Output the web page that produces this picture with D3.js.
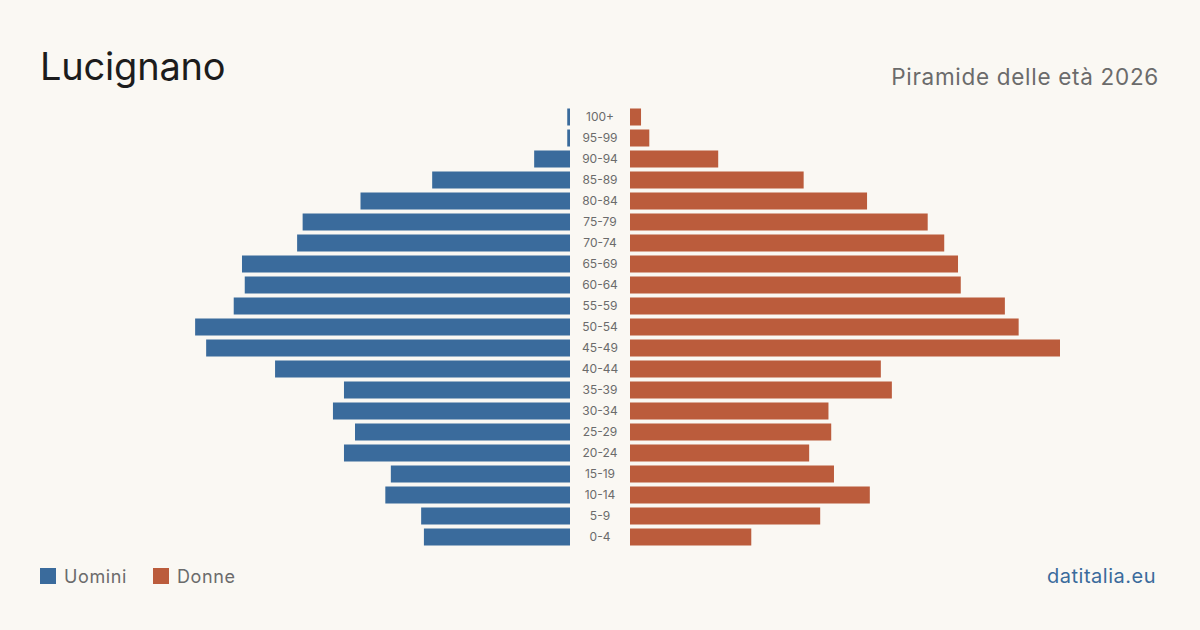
<!DOCTYPE html>
<html>
<head>
<meta charset="utf-8">
<script src="https://cdn.jsdelivr.net/npm/d3@7"></script>
<style>
  html, body { margin: 0; padding: 0; background: #faf8f3; }
  svg { display: block; font-family: Inter, "Noto Sans", sans-serif; }
</style>
</head>
<body>
<svg width="1200" height="630"></svg>
<script>
// age classes, top to bottom
var ageGroups = ["100+", "95-99", "90-94", "85-89", "80-84", "75-79", "70-74", "65-69", "60-64", "55-59",
  "50-54", "45-49", "40-44", "35-39", "30-34", "25-29", "20-24", "15-19", "10-14", "5-9", "0-4"];
var men   = [1, 1, 13, 50, 76, 97, 99, 119, 118, 122, 136, 132, 107, 82, 86, 78, 82, 65, 67, 54, 53];
var women = [4, 7, 32, 63, 86, 108, 114, 119, 120, 136, 141, 156, 91, 95, 72, 73, 65, 74, 87, 69, 44];
var legendItems = ["Uomini", "Donne"];

var blue = "#3a6b9c", red = "#bb5c3c";
var svg = d3.select("svg");

svg.append("text").attr("x", 40).attr("y", 80)
  .attr("font-size", 38).attr("letter-spacing", -0.2).attr("fill", "#1c1c1c").text("Lucignano");
svg.append("text").attr("x", 1159).attr("y", 85).attr("text-anchor", "end")
  .attr("font-size", 22.5).attr("letter-spacing", 0.7).attr("fill", "#6b6b6b").text("Piramide delle età 2026");

var y = d3.scaleBand().domain(ageGroups).range([106.5, 547.5]).paddingInner(0.19).paddingOuter(0.095);
var maxVal = 156;
var xL = d3.scaleLinear().domain([0, maxVal]).range([570, 140]);
var xR = d3.scaleLinear().domain([0, maxVal]).range([630, 1060]);

svg.append("g").selectAll("rect").data(men).enter().append("rect")
  .attr("x", d => xL(d))
  .attr("y", (d, i) => y(ageGroups[i]))
  .attr("width", d => xL(0) - xL(d))
  .attr("height", y.bandwidth())
  .attr("fill", blue);

svg.append("g").selectAll("rect").data(women).enter().append("rect")
  .attr("x", xR(0))
  .attr("y", (d, i) => y(ageGroups[i]))
  .attr("width", d => xR(d) - xR(0))
  .attr("height", y.bandwidth())
  .attr("fill", red);

svg.append("g").selectAll("text").data(ageGroups).enter().append("text")
  .attr("x", 600)
  .attr("y", d => y(d) + y.bandwidth() / 2)
  .attr("dy", "0.35em")
  .attr("text-anchor", "middle")
  .attr("font-size", 12)
  .attr("fill", "#6b6b6b")
  .text(d => d);

// legend
var lg = svg.append("g").selectAll("g").data(legendItems).enter().append("g")
  .attr("transform", (d, i) => "translate(" + (40 + i * 113) + ",568)");
lg.append("rect").attr("width", 16).attr("height", 16)
  .attr("fill", (d, i) => i == 0 ? blue : red);
lg.append("text").attr("x", 24).attr("y", 15)
  .attr("font-size", 18).attr("letter-spacing", 0.6).attr("fill", "#6b6b6b").text(d => d);

svg.append("text").attr("x", 1156).attr("y", 583).attr("text-anchor", "end")
  .attr("font-size", 20).attr("letter-spacing", 0.5).attr("fill", blue).text("datitalia.eu");
</script>
</body>
</html>
